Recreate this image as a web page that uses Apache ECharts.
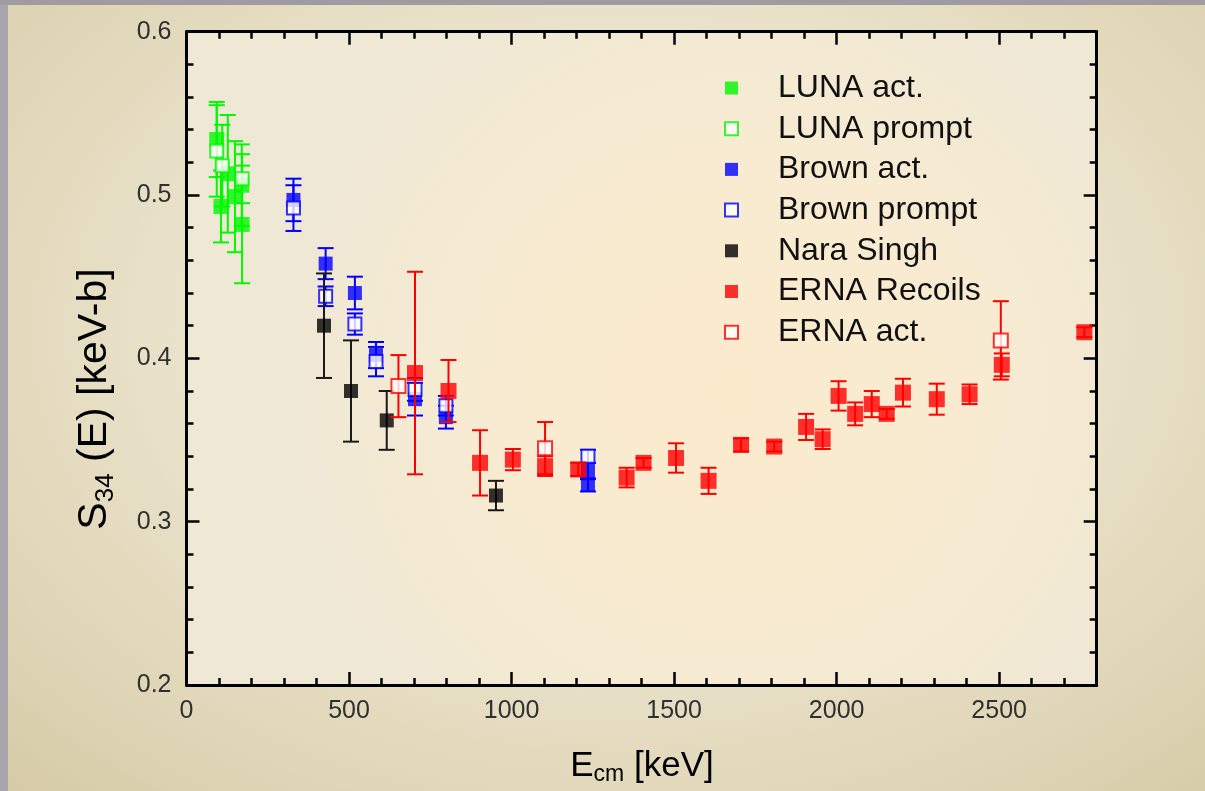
<!DOCTYPE html>
<html>
<head>
<meta charset="utf-8">
<title>S34 astrophysical factor</title>
<script src="https://cdn.jsdelivr.net/npm/echarts@6/dist/echarts.min.js"></script>
<style>
  html, body { margin: 0; padding: 0; width: 1205px; height: 791px; overflow: hidden; }
  body {
    position: relative;
    background:
      radial-gradient(ellipse 75% 80% at 52% 42%, #efe9d6 0%, #ebe4cd 45%, #dfd5b6 80%, #d6caa6 100%);
  }
  #edgeLeft { position: absolute; left: 0; top: 0; width: 8px; height: 791px; background: #a7a4ac; }
  #edgeTop { position: absolute; left: 0; top: 0; width: 1205px; height: 5px; background: #9e9ba3; }
  #chart { position: absolute; left: 0; top: 0; width: 1205px; height: 791px; }
</style>
</head>
<body>
<div id="edgeLeft"></div>
<div id="edgeTop"></div>
<div id="chart"></div>
<script>
// Centre-of-mass energy E_cm [keV], S34 [keV-b], and 1-sigma errors for each data set
const lunaActE   = [93, 106, 127, 149, 170, 171];
const lunaActS   = [0.534, 0.493, 0.513, 0.499, 0.506, 0.482];
const lunaActErr = [0.023, 0.022, 0.036, 0.034, 0.025, 0.036];

const lunaPromptE   = [93, 110, 171];
const lunaPromptS   = [0.527, 0.518, 0.510];
const lunaPromptErr = [0.028, 0.025, 0.015];

const brownActE   = [329, 428, 518, 583, 703, 798, 1235, 1235];
const brownActS   = [0.497, 0.458, 0.440, 0.402, 0.375, 0.364, 0.331, 0.3225];
const brownActErr = [0.013, 0.0095, 0.010, 0.008, 0.010, 0.007, 0.005, 0.004];

const brownPromptE   = [329, 428, 518, 583, 703, 798, 1235];
const brownPromptS   = [0.492, 0.438, 0.421, 0.398, 0.381, 0.371, 0.340];
const brownPromptErr = [0.014, 0.006, 0.0065, 0.009, 0.007, 0.006, 0.004];

const naraE   = [423, 506, 616, 952];
const naraS   = [0.420, 0.380, 0.362, 0.316];
const naraErr = [0.032, 0.031, 0.018, 0.009];

const ernaRecoilE = [703, 806, 903, 1004, 1103, 1205, 1354, 1406, 1506, 1606, 1706, 1808,
                     1906, 1957, 2006, 2057, 2108, 2154, 2204, 2308, 2409, 2508, 2762];
const ernaRecoilS = [0.391, 0.380, 0.336, 0.338, 0.334, 0.332, 0.327, 0.336, 0.339, 0.325, 0.347, 0.346,
                     0.358, 0.3505, 0.377, 0.366, 0.372, 0.366, 0.379, 0.375, 0.378, 0.396, 0.416];
const ernaRecoilErr = [0.062, 0.019, 0.020, 0.0065, 0.006, 0.004, 0.006, 0.003, 0.009, 0.008, 0.004, 0.003,
                       0.008, 0.006, 0.009, 0.007, 0.008, 0.003, 0.0085, 0.0095, 0.006, 0.007, 0.003];

const ernaActE   = [652, 1103, 2505];
const ernaActS   = [0.383, 0.345, 0.411];
const ernaActErr = [0.019, 0.016, 0.024];

// Tick labels shown on the bottom and left axes
const xTicks = [0, 500, 1000, 1500, 2000, 2500];
const yTicks = [0.2, 0.3, 0.4, 0.5, 0.6];

const FONT = '"Liberation Sans", Arial, sans-serif';

function rows(e, s, err) {
  return e.map((x, i) => [x, s[i], err[i]]);
}

// Vertical error bar with horizontal caps, drawn through the axis scales
function errorBar(color, capWidth) {
  return function (params, api) {
    const x = api.value(0), y = api.value(1), e = api.value(2);
    const top = api.coord([x, y + e]);
    const bot = api.coord([x, y - e]);
    const h = capWidth / 2;
    const st = { stroke: color, lineWidth: 2 };
    return {
      type: 'group',
      children: [
        { type: 'line', shape: { x1: top[0], y1: top[1], x2: bot[0], y2: bot[1] }, style: st },
        { type: 'line', shape: { x1: top[0] - h, y1: top[1], x2: top[0] + h, y2: top[1] }, style: st },
        { type: 'line', shape: { x1: bot[0] - h, y1: bot[1], x2: bot[0] + h, y2: bot[1] }, style: st }
      ]
    };
  };
}

const sets = [
  { name: 'LUNA act.',     data: rows(lunaActE, lunaActS, lunaActErr),          color: '#00f800', hollow: false, size: 15 },
  { name: 'LUNA prompt',   data: rows(lunaPromptE, lunaPromptS, lunaPromptErr), color: '#00f800', hollow: true,  size: 13 },
  { name: 'Brown act.',    data: rows(brownActE, brownActS, brownActErr),       color: '#0000ff', hollow: false, size: 14 },
  { name: 'Brown prompt',  data: rows(brownPromptE, brownPromptS, brownPromptErr), color: '#0000ff', hollow: true, size: 13 },
  { name: 'Nara Singh',    data: rows(naraE, naraS, naraErr),                   color: '#000000', hollow: false, size: 14 },
  { name: 'ERNA Recoils',  data: rows(ernaRecoilE, ernaRecoilS, ernaRecoilErr), color: '#ff0000', hollow: false, size: 16 },
  { name: 'ERNA act.',     data: rows(ernaActE, ernaActS, ernaActErr),          color: '#ff0000', hollow: true,  size: 14 }
];

const series = [];
sets.forEach((s, i) => {
  series.push({
    type: 'custom',
    name: s.name + ' err',
    renderItem: errorBar(s.color === '#000000' ? '#1a1a1a' : s.color, 16),
    data: s.data,
    z: 2 + i * 2,
    silent: true,
    encode: { x: 0, y: 1 }
  });
  series.push({
    type: 'scatter',
    name: s.name,
    data: s.data.map(d => [d[0], d[1]]),
    symbol: 'rect',
    symbolSize: s.size,
    z: 3 + i * 2,
    itemStyle: s.hollow
      ? { color: '#ffffff', borderColor: s.color, borderWidth: 2 }
      : { color: s.color, borderWidth: 0 }
  });
});

// Frame axis: heavy black line with inward major and minor ticks
function frameAxis(extra) {
  return Object.assign({
    type: 'value',
    axisLine: { show: true, onZero: false, lineStyle: { color: '#000', width: 3 } },
    axisTick: { show: true, inside: true, length: 13, lineStyle: { color: '#000', width: 2.5 } },
    minorTick: { show: true, splitNumber: 5, length: 7, lineStyle: { color: '#000', width: 2.5 } },
    splitLine: { show: false },
    minorSplitLine: { show: false }
  }, extra);
}

const chart = echarts.init(document.getElementById('chart'), null, { renderer: 'canvas' });

chart.setOption({
  backgroundColor: 'transparent',
  animation: false,
  textStyle: { fontFamily: FONT },
  grid: {
    left: 186.5, right: 108.3, top: 31.7, bottom: 106,
    show: true,
    borderWidth: 0,
    backgroundColor: new echarts.graphic.RadialGradient(0.6, 0.55, 0.7, [
      { offset: 0, color: '#fbebcd' },
      { offset: 0.5, color: '#f8ebd1' },
      { offset: 1, color: '#efe8d5' }
    ])
  },
  xAxis: [
    frameAxis({
      min: 0, max: 2800, interval: 500, position: 'bottom',
      axisLabel: {
        color: '#303030', fontSize: 25, margin: 14, fontFamily: FONT,
        formatter: v => (xTicks.indexOf(v) >= 0 ? String(v) : '')
      }
    }),
    frameAxis({
      min: 0, max: 2800, interval: 500, position: 'top',
      axisLabel: { show: false }
    })
  ],
  yAxis: [
    frameAxis({
      min: 0.2, max: 0.6, interval: 0.1, position: 'left',
      axisLabel: {
        color: '#303030', fontSize: 25, margin: 15, fontFamily: FONT,
        formatter: v => (yTicks.some(t => Math.abs(t - v) < 1e-9) ? v.toFixed(1) : '')
      }
    }),
    frameAxis({
      min: 0.2, max: 0.6, interval: 0.1, position: 'right',
      axisLabel: { show: false }
    })
  ],
  legend: {
    data: sets.map(s => s.name),
    orient: 'vertical',
    left: 724,
    top: 71,
    padding: 0,
    itemWidth: 13,
    itemHeight: 13,
    itemGap: 6.7,
    selectedMode: false,
    textStyle: {
      fontFamily: FONT, fontSize: 32, color: '#111', lineHeight: 34,
      padding: [0, 0, 0, 35]
    }
  },
  graphic: [
    {
      type: 'rect', silent: true, z: -1,
      shape: { x: 663, y: 623, width: 122, height: 42 },
      style: { fill: '#fdeede' }
    },
    {
      type: 'text', silent: true,
      x: 642, y: 766,
      style: {
        text: '{b|E}{s|cm}{b| [keV]}',
        align: 'center', verticalAlign: 'middle',
        fontFamily: FONT,
        rich: {
          b: { fontSize: 35, fill: '#000', fontFamily: FONT },
          s: { fontSize: 23, fill: '#000', fontFamily: FONT, padding: [18, 0, 0, 0] }
        }
      }
    },
    {
      type: 'text', silent: true,
      x: 95, y: 399, rotation: Math.PI / 2,
      style: {
        text: '{b|S}{s|34}{b| (E) [keV-b]}',
        align: 'center', verticalAlign: 'middle',
        fontFamily: FONT,
        rich: {
          b: { fontSize: 41, fill: '#000', fontFamily: FONT },
          s: { fontSize: 26, fill: '#000', fontFamily: FONT, padding: [21, 0, 0, 0] }
        }
      }
    }
  ],
  series
});
</script>
</body>
</html>
